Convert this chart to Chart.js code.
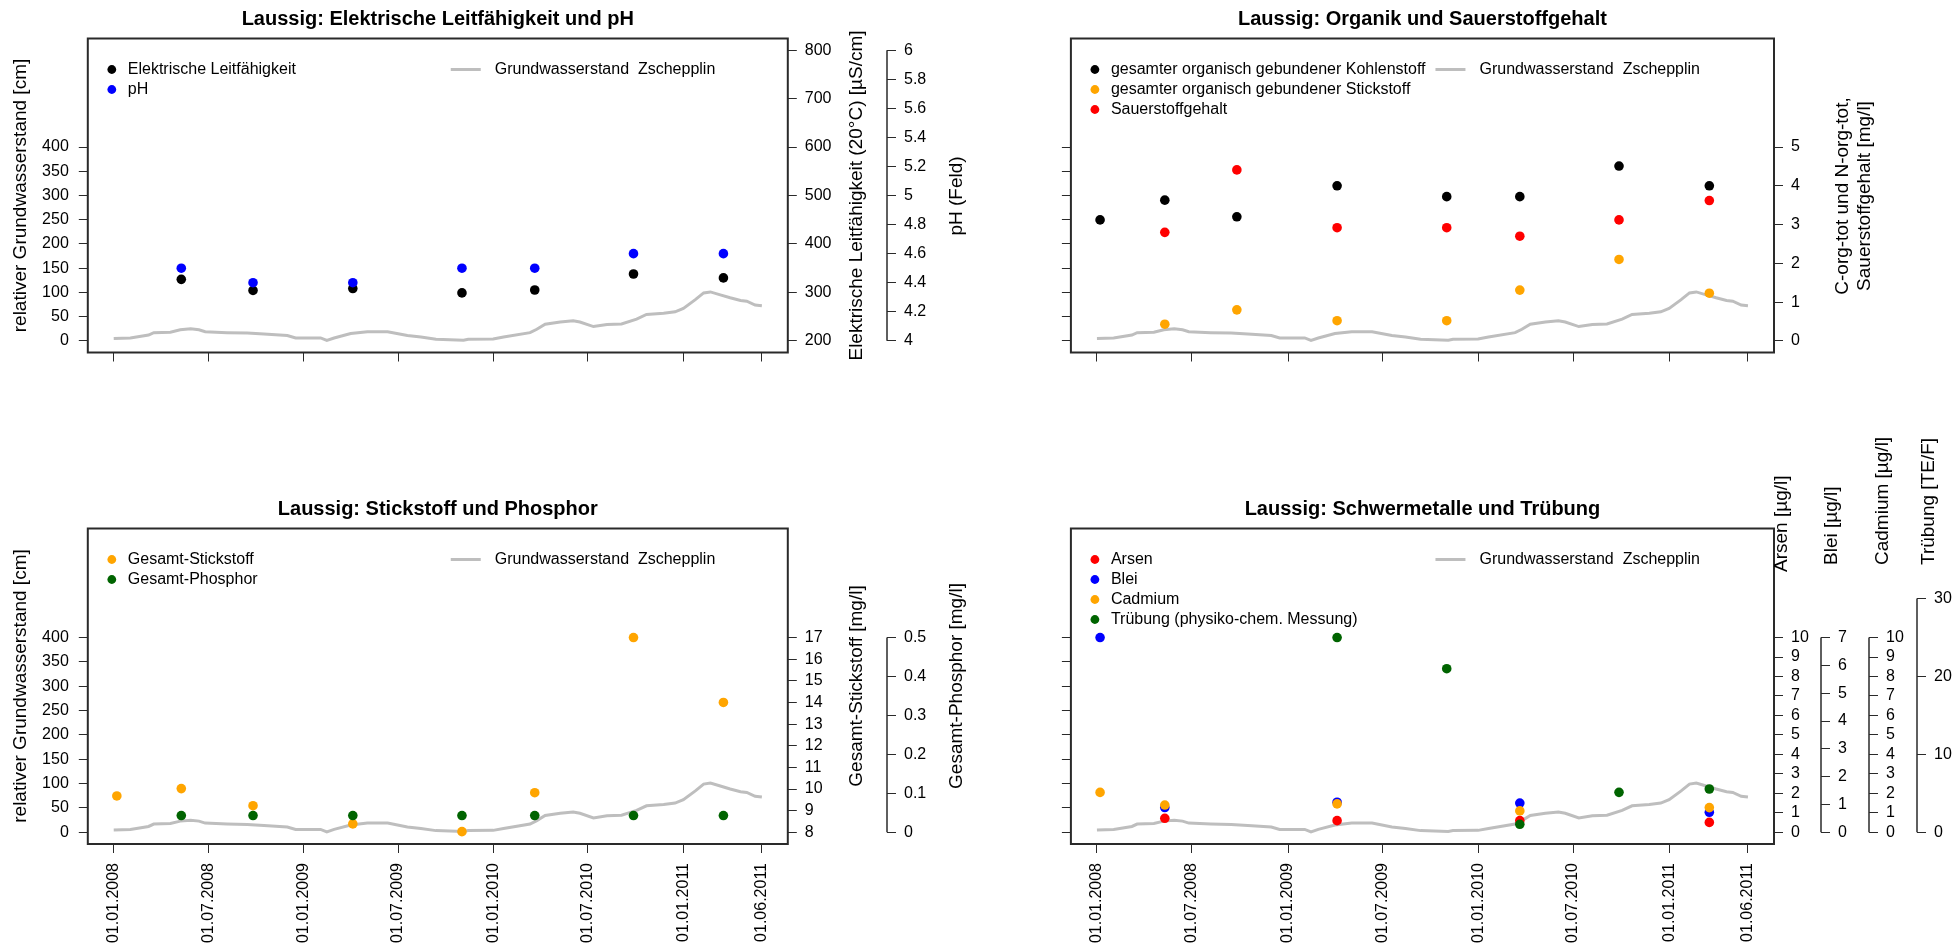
<!DOCTYPE html>
<html>
<head>
<meta charset="utf-8">
<title>Laussig – Grundwasserbeschaffenheit</title>
<script src="https://cdn.jsdelivr.net/npm/chart.js@4.4.1/dist/chart.umd.min.js"></script>
<style>
  html, body { margin: 0; padding: 0; background: #fff; }
  #wrap { position: relative; width: 1955px; height: 945px; overflow: hidden; background: #fff; }
  #wrap canvas { position: absolute; }
</style>
</head>
<body>
<div id="wrap">
  <canvas id="p1" width="978" height="420" style="left:0px;top:0px;width:978px;height:420px"></canvas>
  <canvas id="p2" width="977" height="420" style="left:978px;top:0px;width:977px;height:420px"></canvas>
  <canvas id="p3" width="978" height="525" style="left:0px;top:420px;width:978px;height:525px"></canvas>
  <canvas id="p4" width="977" height="525" style="left:978px;top:420px;width:977px;height:525px"></canvas>
</div>
<script>
// ---------- x axis (dates) ----------
const xRange = ['2008-01-01', '2011-06-01'];
const tickDates = ['2008-01-01', '2008-07-01', '2009-01-01', '2009-07-01',
                   '2010-01-01', '2010-07-01', '2011-01-01', '2011-06-01'];

// sampling dates of the measuring point Laussig
const sampleDates = ['2008-01-07', '2008-05-10', '2008-09-25', '2009-04-05',
                     '2009-11-01', '2010-03-21', '2010-09-27', '2011-03-19'];

// groundwater level Zschepplin [cm]
const gwDates = ['2008-01-01', '2008-02-02', '2008-03-08', '2008-03-18', '2008-04-19', '2008-05-08',
                 '2008-05-28', '2008-06-13', '2008-06-25', '2008-08-06', '2008-09-14', '2008-10-16',
                 '2008-11-30', '2008-12-16', '2009-02-02', '2009-02-14', '2009-02-28', '2009-04-01',
                 '2009-05-03', '2009-06-11', '2009-07-19', '2009-08-14', '2009-09-12', '2009-11-04',
                 '2009-11-13', '2009-12-31', '2010-01-20', '2010-03-12', '2010-03-25', '2010-04-10',
                 '2010-05-09', '2010-06-03', '2010-06-16', '2010-07-12', '2010-08-07', '2010-09-04',
                 '2010-10-03', '2010-10-22', '2010-11-24', '2010-12-16', '2011-01-01', '2011-01-24',
                 '2011-02-09', '2011-02-22', '2011-03-13', '2011-04-01', '2011-04-21', '2011-05-03',
                 '2011-05-19', '2011-06-01'];
const gwLevel = [5, 6, 12, 17, 18, 23,
                 25, 23, 19, 17, 16, 14,
                 11, 6, 6, 1, 6, 15,
                 19, 19, 11, 8, 3.5, 1.5,
                 3.5, 4, 8, 17, 24, 34.5,
                 39, 41.5, 39, 29.5, 34, 35,
                 45, 54.5, 57, 60, 67, 85,
                 99, 101, 95, 89, 83.5, 82,
                 74, 72.5];

// ---------- measured values (null = not measured) ----------
const leitfaehigkeit = [null, 327, 304, 308, 299, 305, 338, 330];      // µS/cm
const phFeld         = [null, 4.5, 4.4, 4.4, 4.5, 4.5, 4.6, 4.6];
const kohlenstoffOrg = [3.12, 3.63, 3.2, 4.0, 3.72, 3.72, 4.51, 4.0];  // mg/l
const stickstoffOrg  = [null, 0.43, 0.8, 0.52, 0.52, 1.31, 2.1, 1.23];  // mg/l
const sauerstoff     = [null, 2.8, 4.41, 2.92, 2.92, 2.7, 3.12, 3.62];  // mg/l
const gesamtN        = [9.68, 10.02, 9.23, 8.39, 8.03, 9.83, 17.0, 14.0];
const gesamtP        = [null, 0.043, 0.043, 0.043, 0.043, 0.043, 0.043, 0.043];
const arsen          = [null, 0.72, null, 0.6, null, 0.6, null, 0.51];   // µg/l
const blei           = [7.0, 0.89, null, 1.08, null, 1.05, null, 0.72];  // µg/l
const cadmium        = [2.05, 1.4, null, 1.46, null, 1.1, null, 1.27];   // µg/l
const truebung       = [null, null, null, 25, 21, 1.03, 5.13, 5.56];     // TE/F

// ---------- axis limits and tick labels ----------
const gwLim = [0, 600],   gwTicks = [0, 50, 100, 150, 200, 250, 300, 350, 400];
const ecLim = [200, 800], ecTicks = [200, 300, 400, 500, 600, 700, 800];
const phLim = [4, 6],     phTicks = [4, 4.2, 4.4, 4.6, 4.8, 5, 5.2, 5.4, 5.6, 5.8, 6];
const orgLim = [0, 7.5],  orgTicks = [0, 1, 2, 3, 4, 5];
const nLim = [8, 21.5],   nTicks = [8, 9, 10, 11, 12, 13, 14, 15, 16, 17];
const pLim = [0, 0.75],   pTicks = [0, 0.1, 0.2, 0.3, 0.4, 0.5];
const asLim = [0, 15],    asTicks = [0, 1, 2, 3, 4, 5, 6, 7, 8, 9, 10];
const pbLim = [0, 10.5],  pbTicks = [0, 1, 2, 3, 4, 5, 6, 7];
const cdLim = [0, 15],    cdTicks = [0, 1, 2, 3, 4, 5, 6, 7, 8, 9, 10];
const trLim = [0, 37.5],  trTicks = [0, 10, 20, 30];

// ---------- helpers ----------
const FONT = '"Liberation Sans", Arial, Helvetica, sans-serif';
const AXIS = '#2a2a2a';
const GW_COLOR = '#BEBEBE';
Chart.defaults.font.family = FONT;
Chart.defaults.color = '#000';

const DAY = 86400000;
const ORIGIN = Date.UTC(2008, 0, 1);
const dayOf = s => (Date.UTC(+s.slice(0, 4), +s.slice(5, 7) - 1, +s.slice(8, 10)) - ORIGIN) / DAY;
const sampleDays = sampleDates.map(dayOf);
const tickDays = tickDates.map(dayOf);
const tickLabels = tickDates.map(s => s.split('-').reverse().join('.'));
const fmtTick = v => String(Math.round(v * 1000) / 1000);

function xAxis(showLabels, height) {
  const lo = dayOf(xRange[0]), hi = dayOf(xRange[1]), span = hi - lo;
  return {
    type: 'linear', position: 'bottom',
    min: lo - 0.04 * span, max: hi + 0.04 * span,
    afterBuildTicks: s => { s.ticks = tickDays.map(v => ({ value: v })); },
    afterFit: s => { s.height = height; },
    border: { display: false },
    grid: { drawOnChartArea: false, drawTicks: true, tickLength: 9, color: AXIS, lineWidth: 1 },
    ticks: {
      display: showLabels, autoSkip: false, minRotation: 90, maxRotation: 90, padding: 10,
      color: '#000', font: { size: 16, family: FONT },
      callback: (v, i) => tickLabels[i]
    }
  };
}

function yAxis(position, lim, ticks, width, showLabels) {
  const span = lim[1] - lim[0];
  return {
    type: 'linear', position,
    min: lim[0] - 0.04 * span, max: lim[1] + 0.04 * span,
    afterBuildTicks: s => { s.ticks = ticks.map(v => ({ value: v })); },
    afterFit: s => { s.width = width; },
    border: { display: false },
    grid: { drawOnChartArea: false, drawTicks: true, tickLength: 9, color: AXIS, lineWidth: 1 },
    ticks: {
      display: showLabels, padding: position === 'left' ? 10 : 8, color: '#000',
      font: { size: 16, family: FONT }, callback: v => fmtTick(v)
    }
  };
}

function dots(label, values, color, axisID, order) {
  const data = [];
  values.forEach((v, i) => { if (v !== null) data.push({ x: sampleDays[i], y: v }); });
  return {
    label, data, yAxisID: axisID, showLine: false, order,
    pointRadius: 4.8, pointHoverRadius: 4.8, pointBorderWidth: 0,
    pointBackgroundColor: color, pointBorderColor: color,
    backgroundColor: color, borderColor: color
  };
}

function groundwater() {
  return {
    label: 'Grundwasserstand  Zschepplin',
    data: gwDates.map((d, i) => ({ x: dayOf(d), y: gwLevel[i] })),
    yAxisID: 'yL', showLine: true, order: 20,
    borderColor: GW_COLOR, backgroundColor: GW_COLOR, borderWidth: 3,
    pointRadius: 0, pointHoverRadius: 0, tension: 0
  };
}

// frame, title, legend, secondary axis lines and axis titles (base-graphics look)
const rFrame = {
  id: 'rFrame',
  afterDraw(chart, args, o) {
    const ctx = chart.ctx, a = chart.chartArea;
    ctx.save();

    // secondary axes: line only across the tick range
    (o.axisLines || []).forEach(id => {
      const s = chart.scales[id];
      const t = s.ticks;
      const y1 = s.getPixelForValue(t[0].value);
      const y2 = s.getPixelForValue(t[t.length - 1].value);
      ctx.strokeStyle = AXIS; ctx.lineWidth = 1.5;
      ctx.beginPath(); ctx.moveTo(s.left, y1); ctx.lineTo(s.left, y2); ctx.stroke();
    });

    // plot box
    ctx.strokeStyle = AXIS; ctx.lineWidth = 2;
    ctx.strokeRect(a.left, a.top, a.right - a.left, a.bottom - a.top);

    // title
    ctx.fillStyle = '#000';
    ctx.font = `bold 20px ${FONT}`;
    ctx.textAlign = 'center'; ctx.textBaseline = 'middle';
    ctx.fillText(o.title, (a.left + a.right) / 2, a.top - 19.5);

    // legend: point series on the left, groundwater line to the right
    ctx.font = `16px ${FONT}`;
    ctx.textAlign = 'left';
    const rowY = i => a.top + 31 + i * 20;
    let row = 0;
    chart.data.datasets.forEach(ds => {
      if (ds.showLine) {
        const x0 = a.left + 0.5185 * (a.right - a.left);
        ctx.strokeStyle = ds.borderColor; ctx.lineWidth = 3;
        ctx.beginPath(); ctx.moveTo(x0, rowY(0)); ctx.lineTo(x0 + 30, rowY(0)); ctx.stroke();
        ctx.fillStyle = '#000';
        ctx.fillText(ds.label, x0 + 44, rowY(0));
      } else {
        const y = rowY(row++);
        ctx.fillStyle = ds.pointBackgroundColor;
        ctx.beginPath(); ctx.arc(a.left + 24, y, 4.4, 0, Math.PI * 2); ctx.fill();
        ctx.fillStyle = '#000';
        ctx.fillText(ds.label, a.left + 40, y);
      }
    });

    // axis titles, reading bottom to top
    ctx.font = `19px ${FONT}`;
    (o.axisTitles || []).forEach(t => {
      ctx.save();
      ctx.translate(t.x, t.y);
      ctx.rotate(-Math.PI / 2);
      ctx.textAlign = t.align || 'center';
      ctx.textBaseline = 'middle';
      ctx.fillStyle = '#000';
      ctx.fillText(t.text, 0, 0);
      ctx.restore();
    });
    ctx.restore();
  }
};

function makeChart(id, datasets, scales, frame, top) {
  return new Chart(document.getElementById(id), {
    type: 'scatter',
    data: { datasets },
    options: {
      responsive: false, animation: false, devicePixelRatio: 1, events: [],
      layout: { padding: { top, left: 0, right: 0, bottom: 0 } },
      scales,
      plugins: { legend: { display: false }, tooltip: { enabled: false }, title: { display: false }, rFrame: frame }
    },
    plugins: [rFrame]
  });
}

// ---------- Elektrische Leitfähigkeit und pH ----------
makeChart('p1', [
  dots('Elektrische Leitfähigkeit', leitfaehigkeit, '#000000', 'yEC', 2),
  dots('pH', phFeld, '#0000FF', 'yPH', 1),
  groundwater()
], {
  x: xAxis(false, 67.5),
  yL: yAxis('left', gwLim, gwTicks, 87.8, true),
  yEC: yAxis('right', ecLim, ecTicks, 99.2, true),
  yPH: yAxis('right', phLim, phTicks, 91, true)
}, {
  title: 'Laussig: Elektrische Leitfähigkeit und pH',
  axisLines: ['yPH'],
  axisTitles: [
    { text: 'relativer Grundwasserstand [cm]', x: 20.5, y: 195.5 },
    { text: 'Elektrische Leitfähigkeit (20°C) [µS/cm]', x: 856.5, y: 195.5 },
    { text: 'pH (Feld)', x: 956.5, y: 196 }
  ]
}, 38.5);

// ---------- Organik und Sauerstoffgehalt ----------
makeChart('p2', [
  dots('gesamter organisch gebundener Kohlenstoff', kohlenstoffOrg, '#000000', 'yOrg', 3),
  dots('gesamter organisch gebundener Stickstoff', stickstoffOrg, '#FFA500', 'yOrg', 2),
  dots('Sauerstoffgehalt', sauerstoff, '#FF0000', 'yOrg', 1),
  groundwater()
], {
  x: xAxis(false, 67.5),
  yL: yAxis('left', gwLim, gwTicks, 92.9, false),
  yOrg: yAxis('right', orgLim, orgTicks, 181, true)
}, {
  title: 'Laussig: Organik und Sauerstoffgehalt',
  axisTitles: [
    { text: 'C-org-tot und N-org-tot,', x: 865, y: 196 },
    { text: 'Sauerstoffgehalt [mg/l]', x: 886.5, y: 196 }
  ]
}, 38.5);

// ---------- Stickstoff und Phosphor ----------
makeChart('p3', [
  dots('Gesamt-Stickstoff', gesamtN, '#FFA500', 'yN', 2),
  dots('Gesamt-Phosphor', gesamtP, '#006400', 'yP', 1),
  groundwater()
], {
  x: xAxis(true, 101),
  yL: yAxis('left', gwLim, gwTicks, 87.8, true),
  yN: yAxis('right', nLim, nTicks, 99.2, true),
  yP: yAxis('right', pLim, pTicks, 91, true)
}, {
  title: 'Laussig: Stickstoff und Phosphor',
  axisLines: ['yP'],
  axisTitles: [
    { text: 'relativer Grundwasserstand [cm]', x: 20.5, y: 266 },
    { text: 'Gesamt-Stickstoff [mg/l]', x: 856.5, y: 266 },
    { text: 'Gesamt-Phosphor [mg/l]', x: 956.5, y: 266 }
  ]
}, 108.5);

// ---------- Schwermetalle und Trübung ----------
makeChart('p4', [
  dots('Arsen', arsen, '#FF0000', 'yAs', 4),
  dots('Blei', blei, '#0000FF', 'yPb', 3),
  dots('Cadmium', cadmium, '#FFA500', 'yCd', 2),
  dots('Trübung (physiko-chem. Messung)', truebung, '#006400', 'yTr', 1),
  groundwater()
], {
  x: xAxis(true, 101),
  yL: yAxis('left', gwLim, gwTicks, 92.9, false),
  yAs: yAxis('right', asLim, asTicks, 47, true),
  yPb: yAxis('right', pbLim, pbTicks, 48, true),
  yCd: yAxis('right', cdLim, cdTicks, 48, true),
  yTr: yAxis('right', trLim, trTicks, 38, true)
}, {
  title: 'Laussig: Schwermetalle und Trübung',
  axisLines: ['yPb', 'yCd', 'yTr'],
  axisTitles: [
    { text: 'Arsen [µg/l]', x: 804, y: 152, align: 'left' },
    { text: 'Blei [µg/l]', x: 854, y: 145, align: 'left' },
    { text: 'Cadmium [µg/l]', x: 905, y: 145, align: 'left' },
    { text: 'Trübung [TE/F]', x: 951, y: 145, align: 'left' }
  ]
}, 108.5);
</script>
</body>
</html>
